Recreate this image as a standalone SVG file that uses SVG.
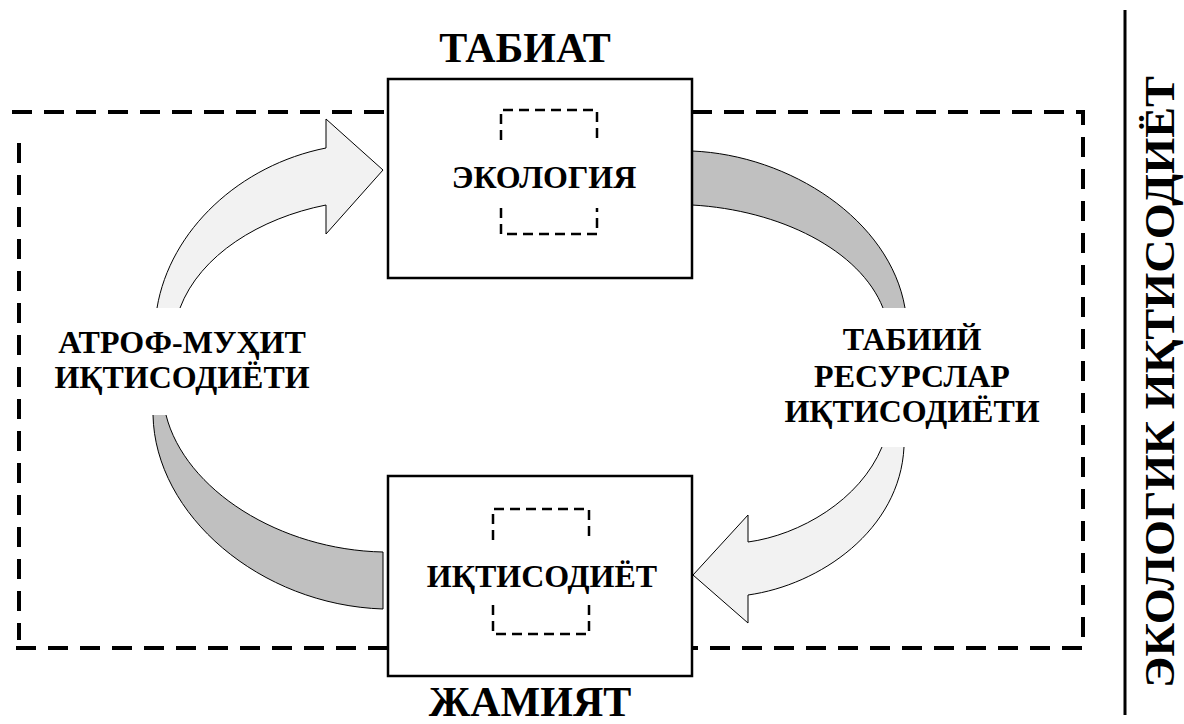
<svg xmlns="http://www.w3.org/2000/svg" width="1184" height="724" viewBox="0 0 1184 724">
<defs>
<style>
text{font-family:"Times New Roman","Liberation Serif","DejaVu Serif","Noto Serif",Times,serif;font-weight:bold;fill:#000;text-anchor:middle}
.lbl{font-size:32px}
.big{font-size:42px}
.outer{fill:none;stroke:#000;stroke-width:4;stroke-dasharray:20 12}
.inner{fill:none;stroke:#000;stroke-width:2.5;stroke-dasharray:10 6}
.box{fill:#fff;stroke:#000;stroke-width:2.5}
.light{fill:#f2f2f2;stroke:#000;stroke-width:1}
.dark{fill:#c0c0c0;stroke:#000;stroke-width:1}
</style>
</defs>
<rect width="1184" height="724" fill="#fff"/>
<g id="frame">
<path class="outer" d="M12,112 L388,112 M692,112 L1083,112 L1083,648 L692,648 M388,648 L12,648 M19,143 L19,640"/>
</g>
<g id="connectors">
<path class="light" d="M180,308 C200,255 260,218 326,205 L326,234 L383,170 L326,119 L326,148 C240,165 170,230 157,308"/>
<path class="dark" d="M166,415 C185,490 280,550 383,552 L383,609 C260,605 155,515 153,415"/>
<path class="dark" d="M883,308 C860,250 780,210 692,205 L692,151 C790,155 890,220 905,308"/>
<path class="light" d="M882,447 C860,500 800,535 748,542 L748,515 L693,575 L748,623 L748,595 C820,585 900,530 904,447"/>
</g>
<g id="label-left">
<text class="lbl" x="182" y="353">АТРОФ-МУҲИТ</text>
<text class="lbl" x="182" y="388">ИҚТИСОДИЁТИ</text>
</g>
<g id="label-right">
<text class="lbl" x="912" y="350">ТАБИИЙ</text>
<text class="lbl" x="912" y="387">РЕСУРСЛАР</text>
<text class="lbl" x="912" y="422">ИҚТИСОДИЁТИ</text>
</g>
<g id="node-tabiat">
<rect class="box" x="388" y="79" width="304" height="199"/>
<path class="inner" d="M501,140 L501,110 L597,110 L597,140 M501,208 L501,234 L597,234 L597,208"/>
<text class="lbl" x="544" y="188">ЭКОЛОГИЯ</text>
<text class="big" x="525" y="62">ТАБИАТ</text>
</g>
<g id="node-jamiyat">
<rect class="box" x="388" y="476" width="304" height="200"/>
<path class="inner" d="M493,540 L493,509 L589,509 L589,540 M493,605 L493,634 L589,634 L589,605"/>
<text class="lbl" x="542" y="587">ИҚТИСОДИЁТ</text>
<text class="big" x="530" y="716">ЖАМИЯТ</text>
</g>
<g id="side-title">
<line x1="1125" y1="10" x2="1125" y2="715" stroke="#000" stroke-width="3"/>
<text class="big" transform="translate(1174,382) rotate(-90)" x="0" y="0" textLength="612" lengthAdjust="spacingAndGlyphs">ЭКОЛОГИК ИҚТИСОДИЁТ</text>
</g>
</svg>
